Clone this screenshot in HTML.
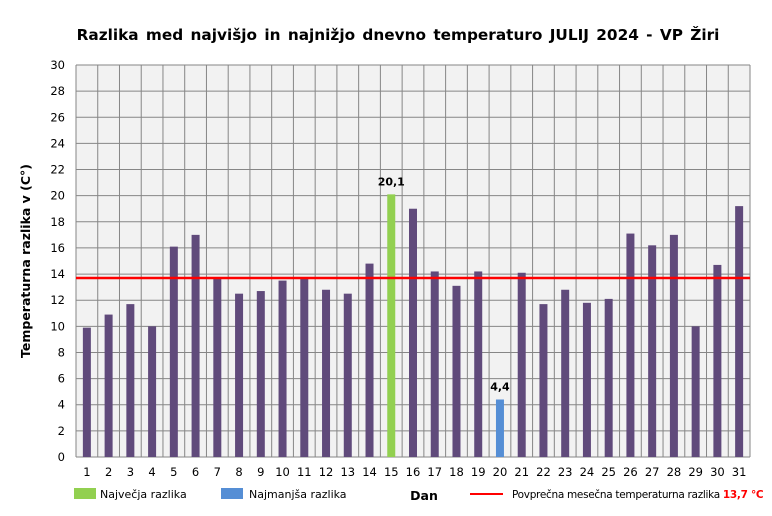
<!DOCTYPE html>
<html><head><meta charset="utf-8"><style>
body{margin:0;background:#fff;font-family:"Liberation Sans","DejaVu Sans",sans-serif;}
svg text{font-family:"DejaVu Sans","Liberation Sans",sans-serif;}
</style></head><body>
<svg id="chart" width="772" height="511" xmlns="http://www.w3.org/2000/svg">
<rect width="772" height="511" fill="#fff"/>
<text x="398" y="40" text-anchor="middle" font-size="15.3" font-weight="bold" word-spacing="2">Razlika med najvišjo in najnižjo dnevno temperaturo JULIJ 2024 - VP Žiri</text>
<rect x="76" y="65" width="674" height="392" fill="#f2f2f2"/>
<g id="grid"></g>
<g id="bars"></g>
<g id="labels"></g>
<text transform="translate(30,261) rotate(-90)" text-anchor="middle" font-size="12.5" font-weight="bold">Temperaturna razlika v (C°)</text>
<text x="424" y="500" text-anchor="middle" font-size="12.5" font-weight="bold">Dan</text>
<g><rect x="74" y="488" width="22" height="11" fill="#92d050"/><text x="100" y="498" font-size="11">Največja razlika</text></g>
<g><rect x="221" y="488" width="22" height="11" fill="#558ed5"/><text x="249" y="498" font-size="11">Najmanjša razlika</text></g>
<g><line x1="470" y1="494" x2="503" y2="494" stroke="#f00" stroke-width="2"/><text x="512" y="498" font-size="10.5" letter-spacing="-0.3">Povprečna mesečna temperaturna razlika <tspan fill="#f00" font-weight="bold">13,7 °C</tspan></text></g>
</svg>
<script>
const days=[1,2,3,4,5,6,7,8,9,10,11,12,13,14,15,16,17,18,19,20,21,22,23,24,25,26,27,28,29,30,31];
const values=[9.9,10.9,11.7,10.0,16.1,17.0,13.7,12.5,12.7,13.5,13.7,12.8,12.5,14.8,20.1,19.0,14.2,13.1,14.2,4.4,14.1,11.7,12.8,11.8,12.1,17.1,16.2,17.0,10.0,14.7,19.2];
const yTicks=[0,2,4,6,8,10,12,14,16,18,20,22,24,26,28,30];
const average=13.7;
const NS="http://www.w3.org/2000/svg";
const L=76,R=750,T=65,B=457,yMax=30;
const step=(R-L)/days.length;
const y=v=>B-(v/yMax)*(B-T);
const xc=i=>L+step*(i+0.5);
function mk(tag,attrs,parent){const e=document.createElementNS(NS,tag);for(const k in attrs)e.setAttribute(k,attrs[k]);parent.appendChild(e);return e;}
const grid=document.getElementById('grid'),bars=document.getElementById('bars'),labels=document.getElementById('labels');
yTicks.forEach(t=>{
  const l=mk('line',{x1:L,x2:R,y1:y(t),y2:y(t),stroke:'#868686','stroke-width':1},grid);
  
  
  const tx=mk('text',{x:L-11,y:y(t)+4,'text-anchor':'end','font-size':11.5},labels);
  tx.textContent=t;
  
  
});
for(let i=0;i<=days.length;i++){
  const l=mk('line',{x1:L+step*i,x2:L+step*i,y1:T,y2:B,stroke:'#868686','stroke-width':1},grid);
  
  
}
let maxI=values.indexOf(Math.max(...values)),minI=values.indexOf(Math.min(...values));
values.forEach((v,i)=>{
  const fill=i===maxI?'#92d050':(i===minI?'#558ed5':'#604a7b');
  const r=mk('rect',{x:xc(i)-4,y:y(v),width:8,height:B-y(v),fill:fill},bars);
  
  
  const tx=mk('text',{x:xc(i),y:476,'text-anchor':'middle','font-size':11.5},labels);
  tx.textContent=days[i];
  
  
  if(i===maxI||i===minI){
    const vl=mk('text',{x:xc(i),y:y(v)-9,'text-anchor':'middle','font-size':11,'font-weight':'bold'},labels);
    vl.textContent=String(v.toFixed(1)).replace('.',',');
    
    
  }
});
const avg=mk('line',{x1:L,x2:R,y1:y(average),y2:y(average),stroke:'#ff0000','stroke-width':2.5},bars);


</script>
</body></html>
